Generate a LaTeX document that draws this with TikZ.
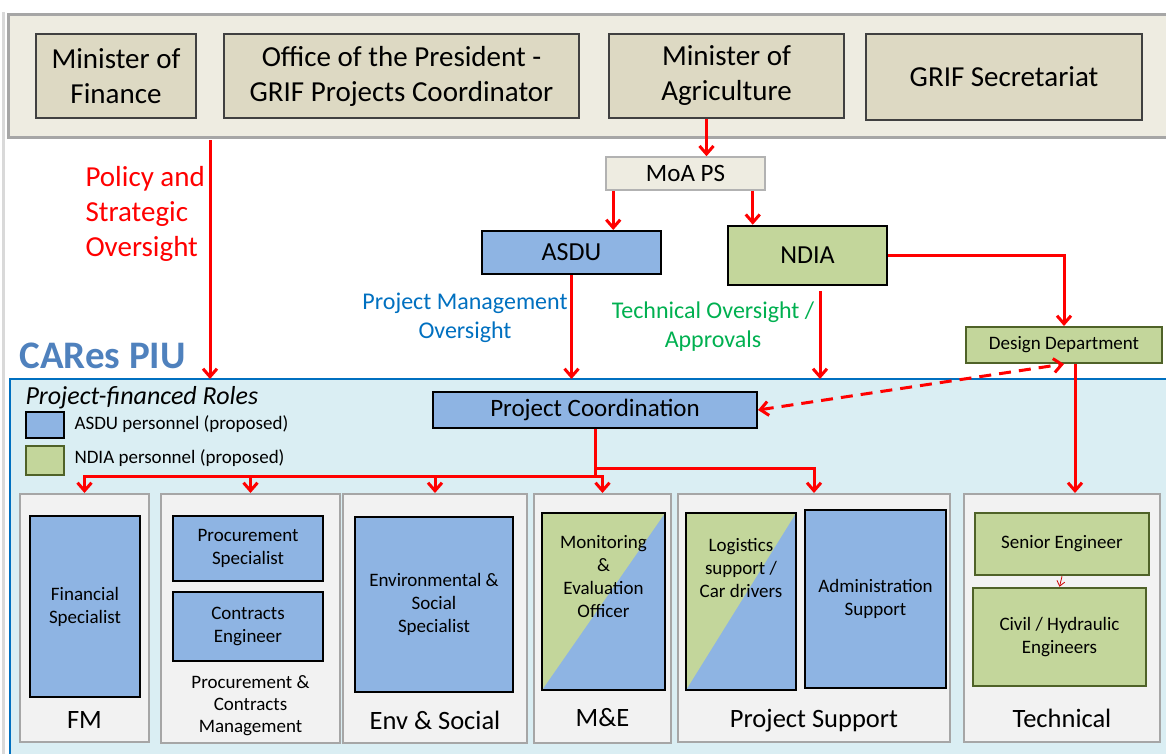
\documentclass[tikz,border=0pt]{standalone}
\usepackage{fontspec}
\setmainfont{Carlito}
\usetikzlibrary{arrows.meta}

\definecolor{bandgrey}{HTML}{EEECE1}
\definecolor{tanbox}{HTML}{DDD9C3}
\definecolor{asdublue}{HTML}{8EB4E3}
\definecolor{ndiagreen}{HTML}{C3D69B}
\definecolor{olive}{HTML}{4F6228}
\definecolor{piublue}{HTML}{DAEEF3}
\definecolor{colgrey}{HTML}{F2F2F2}
\definecolor{colline}{HTML}{A6A6A6}
\definecolor{mgmtblue}{HTML}{0070C0}
\definecolor{techgreen}{HTML}{00B050}
\definecolor{piutitle}{HTML}{4F81BD}

\begin{document}
\begin{tikzpicture}[x=1pt, y=-1pt,
	govbox/.style={draw=black!75, line width=1.2pt, fill=tanbox, align=center, font=\fontsize{29}{35}\selectfont},
	asdubox/.style={draw=black, line width=2.5pt, fill=asdublue, align=center},
	ndiabox/.style={draw=olive, line width=2.5pt, fill=ndiagreen, align=center},
	column/.style={draw=colline, line width=2pt, fill=colgrey},
	small/.style={align=center, font=\fontsize{19}{23}\selectfont},
	collabel/.style={align=center, font=\fontsize{26.5}{30}\selectfont},
	redarrow/.style={draw=red, line width=3pt, -{Straight Barb[length=8pt,width=14pt]}},
	halfhalf/.style={asdubox, path picture={\fill[ndiagreen] (path picture bounding box.north west) -- (path picture bounding box.north east) -- (path picture bounding box.south west) -- cycle;}}]
	\useasboundingbox (0,0) rectangle (1166,753);

	% backgrounds: government band and PIU area
	\draw[black!15, line width=3pt] (3,12) -- (3,760);
	\draw[fill=bandgrey, draw=colline, line width=3pt] (8,14) rectangle (1175,137);
	\fill[piublue] (10,379) rectangle (1175,760);
	\draw[mgmtblue, line width=2pt] (10,760) -- (10,379) -- (1175,379);
	\coordinate (piutop) at (0,379);

	% government level
	\node[govbox, minimum width=160pt, minimum height=84pt] (fin) at (116,76) {Minister of\\Finance};
	\node[govbox, minimum width=355pt, minimum height=84pt] (pres) at (401.5,76) {Office of the President -\\GRIF Projects Coordinator};
	\node[govbox, minimum width=235pt, minimum height=84pt] (agri) at (726.5,76) {Minister of\\Agriculture};
	\node[govbox, minimum width=276pt, minimum height=86pt] (grif) at (1004,77) {GRIF Secretariat};

	\node[draw=black!30, line width=1.5pt, fill=bandgrey, minimum width=159pt, minimum height=33pt, font=\fontsize{25}{28}\selectfont] (moaps) at (685.5,173.5) {MoA PS};
	\node[asdubox, line width=2pt, minimum width=179pt, minimum height=43pt, font=\fontsize{26}{30}\selectfont] (asdu) at (571.5,252.5) {ASDU};
	\node[ndiabox, draw=black, minimum width=159pt, minimum height=59pt, font=\fontsize{26}{30}\selectfont] (ndia) at (807.5,255.5) {NDIA};
	\node[ndiabox, line width=2pt, minimum width=196pt, minimum height=36pt, font=\fontsize{19}{22}\selectfont] (design) at (1064,345) {Design Department};

	\draw[redarrow] ([xshift=-20pt]agri.south) -- ([xshift=-20pt]agri.south |- moaps.north);
	\draw[redarrow] ([xshift=8pt]moaps.south west) -- ([xshift=8pt]moaps.south west |- asdu.north);
	\draw[redarrow] ([xshift=-13pt]moaps.south east) -- ([xshift=-13pt]moaps.south east |- ndia.north);
	\draw[redarrow] (ndia.east) -| (design.north);

	% oversight lines into the PIU
	\coordinate (policytop) at (210,140);
	\draw[redarrow] (policytop) -- (policytop |- piutop);
	\draw[redarrow] (asdu.south) -- (asdu.south |- piutop);
	\draw[redarrow] ([xshift=12.5pt,yshift=-5pt]ndia.south) -- ([xshift=12.5pt]ndia.south |- piutop);

	\node[anchor=west, align=left, text=red, font=\fontsize{29}{35}\selectfont] (policy) at (82,214) {Policy and\\Strategic\\Oversight};
	\node[align=center, text=mgmtblue, font=\fontsize{24}{29}\selectfont] (pmo) at (465,318) {Project Management\\Oversight};
	\node[align=center, text=techgreen, font=\fontsize{24}{29}\selectfont] (tech oversight) at (713,327) {Technical Oversight /\\Approvals};
	\node[anchor=west, text=piutitle, font=\fontsize{39}{42}\selectfont\bfseries] (piu) at (16,356) {CARes PIU};

	% legend
	\node[anchor=west, font=\fontsize{26}{28}\selectfont\itshape] (roles) at (22,398) {Project-financed Roles};
	\node[asdubox, minimum width=38pt, minimum height=26pt] (legasdu) at (45,425) {};
	\node[ndiabox, minimum width=38pt, minimum height=29pt] (legndia) at (45,460.5) {};
	\node[anchor=west, font=\fontsize{19}{22}\selectfont] (legasdutext) at (71,424) {ASDU personnel (proposed)};
	\node[anchor=west, font=\fontsize{19}{22}\selectfont] (legndiatext) at (71,458) {NDIA personnel (proposed)};

	\node[asdubox, line width=2pt, minimum width=324pt, minimum height=36pt, font=\fontsize{25}{28}\selectfont] (coord) at (595,410) {Project Coordination};
	\draw[redarrow, dash pattern=on 12pt off 8pt, {Straight Barb[length=8pt,width=14pt]}-{Straight Barb[length=8pt,width=14pt]}] (coord.east) -- (design.south);

	% functional columns
	\node[column, minimum width=129pt, minimum height=248pt] (fm) at (84.5,618) {};
	\node[column, minimum width=179pt, minimum height=249pt] (proc) at (250.5,618.5) {};
	\node[column, minimum width=184pt, minimum height=249pt] (env) at (435,618.5) {};
	\node[column, minimum width=137pt, minimum height=249pt] (me) at (602.5,618.5) {};
	\node[column, minimum width=272pt, minimum height=248pt] (support) at (814,618) {};
	\node[column, minimum width=196pt, minimum height=248pt] (tech) at (1062,618) {};

	\node[collabel] (fmlab) at (84.5,720) {FM};
	\node[small, font=\fontsize{19}{22}\selectfont] (proclab) at (250.5,706) {Procurement \&\\Contracts\\Management};
	\node[collabel] (envlab) at (435,720) {Env \& Social};
	\node[collabel] (melab) at (602.5,718) {M\&E};
	\node[collabel] (suplab) at (814,721) {Project Support};
	\node[collabel] (techlab) at (1062,718) {Technical};

	% coordination to columns
	\coordinate (busA) at (0,476);
	\coordinate (busB) at (0,468);
	\draw[red, line width=3pt] (coord.south) -- (coord.south |- busA);
	\draw[redarrow] (coord.south |- busA) -| (fm.north);
	\draw[redarrow] (proc.north |- busA) -- (proc.north);
	\draw[redarrow] (env.north |- busA) -- (env.north);
	\draw[redarrow] (coord.south |- busA) -| (me.north);
	\draw[redarrow] (coord.south |- busB) -| (support.north);
	\draw[redarrow] ([xshift=11pt]design.south) -- ([xshift=11pt]design.south |- tech.north);

	% roles
	\node[asdubox, small, minimum width=110pt, minimum height=181pt] (finspec) at (85,606.5) {Financial\\Specialist};
	\node[asdubox, small, minimum width=150pt, minimum height=65pt] (procspec) at (248,548.5) {Procurement\\Specialist};
	\node[asdubox, small, minimum width=150pt, minimum height=69pt] (contract) at (248,626.5) {Contracts\\Engineer};
	\node[asdubox, small, minimum width=158pt, minimum height=175pt] (envspec) at (434,604.5) {Environmental \&\\Social\\Specialist};
	\node[halfhalf, minimum width=123pt, minimum height=177pt] (meoff) at (603.5,601.5) {};
	\node[small] (meofftext) at (603.5,577) {Monitoring\\\&\\Evaluation\\Officer};
	\node[halfhalf, minimum width=110pt, minimum height=177pt] (logist) at (741,601.5) {};
	\node[small] (logisttext) at (741,568) {Logistics\\support /\\Car drivers};
	\node[asdubox, small, minimum width=141pt, minimum height=178pt] (admin) at (875.5,599) {Administration\\Support};
	\node[ndiabox, small, minimum width=174pt, minimum height=62pt] (senior) at (1062,544) {Senior Engineer};
	\node[ndiabox, small, minimum width=173pt, minimum height=98pt] (civil) at (1059.5,637) {Civil / Hydraulic\\Engineers};
	\draw[red!80!black, line width=0.8pt, -{Straight Barb[length=5pt,width=8pt]}] (senior.south) -- (civil.north);

\end{tikzpicture}
\end{document}
